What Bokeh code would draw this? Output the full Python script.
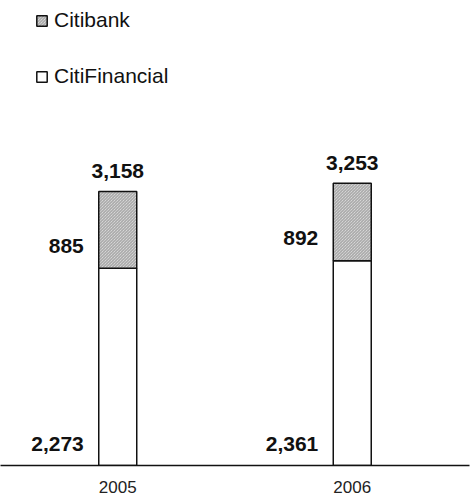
from bokeh.plotting import figure
from bokeh.models import ColumnDataSource, Range1d, FactorRange, Legend, LegendItem
from bokeh.core.properties import value
from bokeh.embed import file_html
from bokeh.resources import INLINE

years = ["2005", "2006"]
citifinancial = [2273, 2361]
citibank = [885, 892]
totals = [3158, 3253]

tops = [a + b for a, b in zip(citifinancial, citibank)]
mids = [a + b / 2 for a, b in zip(citifinancial, citibank)]

src = ColumnDataSource(dict(
    x=years,
    cf=citifinancial,
    top=tops,
    mid=mids,
    zero=[0] * len(years),
    tot=totals,
    cf_lbl=[f"{v:,}" for v in citifinancial],
    cb_lbl=[f"{v:,}" for v in citibank],
    tot_lbl=[f"{v:,}" for v in totals],
))

FONT = value("Liberation Sans")

p = figure(x_range=FactorRange(*years), y_range=Range1d(0, 5359),
           width=474, height=500, output_backend="svg", toolbar_location=None,
           y_axis_location=None, min_border_left=0, min_border_right=5,
           min_border_top=0, min_border_bottom=35)
p.outline_line_color = None
p.grid.visible = False

BW = 0.162
r_cf = p.vbar(x="x", bottom=0, top="cf", width=BW, source=src,
              fill_color="white", line_color="#111111", line_width=1.5)
r_cb = p.vbar(x="x", bottom="cf", top="top", width=BW, source=src,
              fill_color="#ebebeb", hatch_pattern="\\", hatch_scale=3,
              hatch_color="#9a9a9a", hatch_weight=1,
              line_color="#111111", line_width=1.5)

ax = p.xaxis[0]
ax.axis_line_color = "#111111"
ax.axis_line_width = 1.3
ax.major_tick_line_color = None
ax.minor_tick_line_color = None
ax.major_tick_out = 0
ax.major_tick_in = 0
ax.major_label_text_font = "Liberation Sans"
ax.major_label_text_font_size = "17px"
ax.major_label_text_color = "#222222"
ax.major_label_standoff = 15

lbl = dict(text_font=FONT, text_font_style="bold", text_font_size="21px",
           text_color="#111111", text_baseline="middle", source=src)
p.text(x="x", y="top", text="tot_lbl", text_align="center", y_offset=-20, **lbl)
p.text(x="x", y="mid", text="cb_lbl", text_align="right", x_offset=-34, y_offset=16, **lbl)
p.text(x="x", y="zero", text="cf_lbl", text_align="right", x_offset=-34, y_offset=-22, **lbl)

legend = Legend(items=[LegendItem(label="Citibank", renderers=[r_cb]),
                       LegendItem(label="CitiFinancial", renderers=[r_cf])],
                location=(35, 377), orientation="vertical",
                glyph_width=13, glyph_height=13, label_height=22, spacing=32,
                padding=0, margin=0, border_line_color=None,
                background_fill_alpha=0, label_text_font="Liberation Sans",
                label_text_font_size="21px", label_text_color="#111111",
                label_standoff=6)
p.add_layout(legend)

open("out.html", "w").write(file_html(p, INLINE))
